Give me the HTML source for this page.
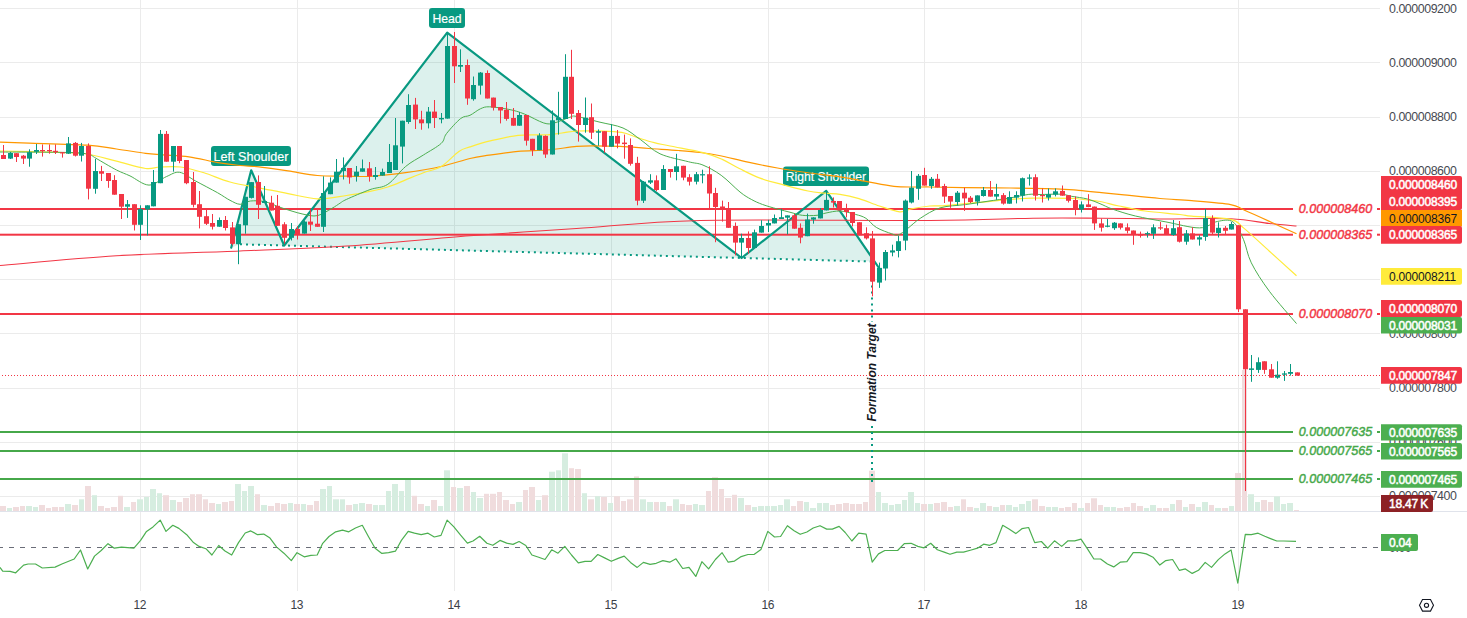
<!DOCTYPE html>
<html><head><meta charset="utf-8"><style>
html,body{margin:0;padding:0;background:#fff;width:1467px;height:618px;overflow:hidden;position:relative}
text{font-family:"Liberation Sans",sans-serif}
.ax{font-size:12.4px;fill:#474a52;letter-spacing:-0.45px}
.lb{font-size:12px;letter-spacing:-0.2px;stroke-width:0.5px}
.it{font-size:12.5px;font-style:italic;letter-spacing:0.05px;stroke-width:0.45px}
.pl{font-size:12.8px;fill:#fff;stroke:#fff;stroke-width:0.2px}
.ft{font-size:12px;font-style:italic;font-weight:bold;fill:#131722}
.tm{font-size:12px;fill:#3b3e47;letter-spacing:-0.5px}
</style></head><body>
<svg width="1467" height="618" viewBox="0 0 1467 618" style="position:absolute;left:0;top:0;display:block"><line x1="0" y1="8.5" x2="1380" y2="8.5" stroke="#EBEBEB" stroke-width="1"/><line x1="0" y1="62.5" x2="1380" y2="62.5" stroke="#EBEBEB" stroke-width="1"/><line x1="0" y1="117.5" x2="1380" y2="117.5" stroke="#EBEBEB" stroke-width="1"/><line x1="0" y1="171.5" x2="1380" y2="171.5" stroke="#EBEBEB" stroke-width="1"/><line x1="0" y1="225.5" x2="1380" y2="225.5" stroke="#EBEBEB" stroke-width="1"/><line x1="0" y1="279.5" x2="1380" y2="279.5" stroke="#EBEBEB" stroke-width="1"/><line x1="0" y1="333.5" x2="1380" y2="333.5" stroke="#EBEBEB" stroke-width="1"/><line x1="0" y1="388.5" x2="1380" y2="388.5" stroke="#EBEBEB" stroke-width="1"/><line x1="0" y1="442.5" x2="1380" y2="442.5" stroke="#EBEBEB" stroke-width="1"/><line x1="0" y1="496.5" x2="1380" y2="496.5" stroke="#EBEBEB" stroke-width="1"/><line x1="140.5" y1="0" x2="140.5" y2="591" stroke="#EBEBEB" stroke-width="1"/><line x1="297.5" y1="0" x2="297.5" y2="591" stroke="#EBEBEB" stroke-width="1"/><line x1="454.5" y1="0" x2="454.5" y2="591" stroke="#EBEBEB" stroke-width="1"/><line x1="611.5" y1="0" x2="611.5" y2="591" stroke="#EBEBEB" stroke-width="1"/><line x1="768.5" y1="0" x2="768.5" y2="591" stroke="#EBEBEB" stroke-width="1"/><line x1="924.5" y1="0" x2="924.5" y2="591" stroke="#EBEBEB" stroke-width="1"/><line x1="1081.5" y1="0" x2="1081.5" y2="591" stroke="#EBEBEB" stroke-width="1"/><line x1="1238.5" y1="0" x2="1238.5" y2="591" stroke="#EBEBEB" stroke-width="1"/><line x1="0" y1="511.5" x2="1467" y2="511.5" stroke="#E0E3EB" stroke-width="1"/><rect x="0" y="506.0" width="6" height="5.0" fill="#F0DCDD"/><rect x="7" y="508.0" width="5" height="3.0" fill="#D6EDE0"/><rect x="13" y="507.0" width="6" height="4.0" fill="#F0DCDD"/><rect x="20" y="506.0" width="5" height="5.0" fill="#F0DCDD"/><rect x="26" y="506.0" width="6" height="5.0" fill="#D6EDE0"/><rect x="33" y="507.0" width="5" height="4.0" fill="#D6EDE0"/><rect x="39" y="505.0" width="6" height="6.0" fill="#F0DCDD"/><rect x="46" y="508.0" width="5" height="3.0" fill="#F0DCDD"/><rect x="52" y="507.0" width="6" height="4.0" fill="#F0DCDD"/><rect x="59" y="507.0" width="5" height="4.0" fill="#F0DCDD"/><rect x="65" y="504.0" width="6" height="7.0" fill="#D6EDE0"/><rect x="72" y="505.0" width="6" height="6.0" fill="#F0DCDD"/><rect x="79" y="499.3" width="5" height="11.7" fill="#D6EDE0"/><rect x="85" y="486.0" width="6" height="25.0" fill="#F0DCDD"/><rect x="92" y="495.2" width="5" height="15.8" fill="#D6EDE0"/><rect x="98" y="506.0" width="6" height="5.0" fill="#F0DCDD"/><rect x="105" y="508.0" width="5" height="3.0" fill="#F0DCDD"/><rect x="111" y="507.0" width="6" height="4.0" fill="#F0DCDD"/><rect x="118" y="495.8" width="5" height="15.2" fill="#F0DCDD"/><rect x="124" y="507.0" width="6" height="4.0" fill="#D6EDE0"/><rect x="131" y="502.0" width="5" height="9.0" fill="#F0DCDD"/><rect x="137" y="499.3" width="6" height="11.7" fill="#D6EDE0"/><rect x="144" y="497.0" width="5" height="14.0" fill="#D6EDE0"/><rect x="150" y="489.0" width="6" height="22.0" fill="#D6EDE0"/><rect x="157" y="493.2" width="5" height="17.8" fill="#D6EDE0"/><rect x="163" y="495.2" width="6" height="15.8" fill="#F0DCDD"/><rect x="170" y="500.0" width="6" height="11.0" fill="#D6EDE0"/><rect x="177" y="502.0" width="5" height="9.0" fill="#F0DCDD"/><rect x="183" y="498.0" width="6" height="13.0" fill="#F0DCDD"/><rect x="190" y="494.2" width="5" height="16.8" fill="#F0DCDD"/><rect x="196" y="494.2" width="6" height="16.8" fill="#F0DCDD"/><rect x="203" y="499.3" width="5" height="11.7" fill="#F0DCDD"/><rect x="209" y="503.0" width="6" height="8.0" fill="#F0DCDD"/><rect x="216" y="504.0" width="5" height="7.0" fill="#D6EDE0"/><rect x="222" y="502.0" width="6" height="9.0" fill="#F0DCDD"/><rect x="229" y="501.0" width="5" height="10.0" fill="#F0DCDD"/><rect x="235" y="484.0" width="6" height="27.0" fill="#D6EDE0"/><rect x="242" y="491.0" width="5" height="20.0" fill="#D6EDE0"/><rect x="248" y="486.0" width="6" height="25.0" fill="#D6EDE0"/><rect x="255" y="494.2" width="5" height="16.8" fill="#F0DCDD"/><rect x="261" y="505.0" width="6" height="6.0" fill="#D6EDE0"/><rect x="268" y="506.0" width="6" height="5.0" fill="#F0DCDD"/><rect x="275" y="503.0" width="5" height="8.0" fill="#F0DCDD"/><rect x="281" y="504.0" width="6" height="7.0" fill="#F0DCDD"/><rect x="288" y="503.0" width="5" height="8.0" fill="#D6EDE0"/><rect x="294" y="504.0" width="6" height="7.0" fill="#F0DCDD"/><rect x="301" y="504.0" width="5" height="7.0" fill="#D6EDE0"/><rect x="307" y="505.0" width="6" height="6.0" fill="#F0DCDD"/><rect x="314" y="501.0" width="5" height="10.0" fill="#F0DCDD"/><rect x="320" y="489.0" width="6" height="22.0" fill="#D6EDE0"/><rect x="327" y="486.0" width="5" height="25.0" fill="#D6EDE0"/><rect x="333" y="499.3" width="6" height="11.7" fill="#D6EDE0"/><rect x="340" y="499.3" width="5" height="11.7" fill="#D6EDE0"/><rect x="346" y="505.0" width="6" height="6.0" fill="#F0DCDD"/><rect x="353" y="504.0" width="5" height="7.0" fill="#D6EDE0"/><rect x="359" y="503.0" width="6" height="8.0" fill="#D6EDE0"/><rect x="366" y="504.0" width="6" height="7.0" fill="#F0DCDD"/><rect x="373" y="505.0" width="5" height="6.0" fill="#D6EDE0"/><rect x="379" y="505.0" width="6" height="6.0" fill="#D6EDE0"/><rect x="386" y="491.0" width="5" height="20.0" fill="#D6EDE0"/><rect x="392" y="484.0" width="6" height="27.0" fill="#D6EDE0"/><rect x="399" y="491.0" width="5" height="20.0" fill="#D6EDE0"/><rect x="405" y="479.3" width="6" height="31.7" fill="#D6EDE0"/><rect x="412" y="495.8" width="5" height="15.2" fill="#F0DCDD"/><rect x="418" y="504.0" width="6" height="7.0" fill="#F0DCDD"/><rect x="425" y="506.0" width="5" height="5.0" fill="#D6EDE0"/><rect x="431" y="500.0" width="6" height="11.0" fill="#F0DCDD"/><rect x="438" y="506.0" width="5" height="5.0" fill="#D6EDE0"/><rect x="444" y="470.3" width="6" height="40.7" fill="#D6EDE0"/><rect x="451" y="487.0" width="5" height="24.0" fill="#F0DCDD"/><rect x="457" y="488.0" width="6" height="23.0" fill="#D6EDE0"/><rect x="464" y="486.0" width="6" height="25.0" fill="#F0DCDD"/><rect x="471" y="492.0" width="5" height="19.0" fill="#D6EDE0"/><rect x="477" y="498.0" width="6" height="13.0" fill="#D6EDE0"/><rect x="484" y="493.8" width="5" height="17.2" fill="#F0DCDD"/><rect x="490" y="493.8" width="6" height="17.2" fill="#F0DCDD"/><rect x="497" y="492.0" width="5" height="19.0" fill="#F0DCDD"/><rect x="503" y="500.0" width="6" height="11.0" fill="#F0DCDD"/><rect x="510" y="504.0" width="5" height="7.0" fill="#F0DCDD"/><rect x="516" y="502.0" width="6" height="9.0" fill="#D6EDE0"/><rect x="523" y="490.0" width="5" height="21.0" fill="#F0DCDD"/><rect x="529" y="487.0" width="6" height="24.0" fill="#F0DCDD"/><rect x="536" y="500.0" width="5" height="11.0" fill="#D6EDE0"/><rect x="542" y="495.2" width="6" height="15.8" fill="#F0DCDD"/><rect x="549" y="471.7" width="6" height="39.3" fill="#D6EDE0"/><rect x="556" y="470.3" width="5" height="40.7" fill="#D6EDE0"/><rect x="562" y="453.3" width="6" height="57.7" fill="#D6EDE0"/><rect x="569" y="468.2" width="5" height="42.8" fill="#F0DCDD"/><rect x="575" y="469.0" width="6" height="42.0" fill="#F0DCDD"/><rect x="582" y="493.2" width="5" height="17.8" fill="#D6EDE0"/><rect x="588" y="499.3" width="6" height="11.7" fill="#F0DCDD"/><rect x="595" y="496.2" width="5" height="14.8" fill="#D6EDE0"/><rect x="601" y="497.0" width="6" height="14.0" fill="#F0DCDD"/><rect x="608" y="503.0" width="5" height="8.0" fill="#D6EDE0"/><rect x="614" y="496.2" width="6" height="14.8" fill="#F0DCDD"/><rect x="621" y="501.0" width="5" height="10.0" fill="#F0DCDD"/><rect x="627" y="499.3" width="6" height="11.7" fill="#F0DCDD"/><rect x="634" y="476.4" width="5" height="34.6" fill="#F0DCDD"/><rect x="640" y="499.3" width="6" height="11.7" fill="#D6EDE0"/><rect x="647" y="502.0" width="6" height="9.0" fill="#D6EDE0"/><rect x="654" y="502.0" width="5" height="9.0" fill="#F0DCDD"/><rect x="660" y="502.0" width="6" height="9.0" fill="#D6EDE0"/><rect x="667" y="506.0" width="5" height="5.0" fill="#F0DCDD"/><rect x="673" y="499.3" width="6" height="11.7" fill="#D6EDE0"/><rect x="680" y="504.0" width="5" height="7.0" fill="#F0DCDD"/><rect x="686" y="505.0" width="6" height="6.0" fill="#F0DCDD"/><rect x="693" y="504.0" width="5" height="7.0" fill="#D6EDE0"/><rect x="699" y="505.0" width="6" height="6.0" fill="#D6EDE0"/><rect x="706" y="491.0" width="5" height="20.0" fill="#F0DCDD"/><rect x="712" y="477.2" width="6" height="33.8" fill="#F0DCDD"/><rect x="719" y="489.0" width="5" height="22.0" fill="#F0DCDD"/><rect x="725" y="498.0" width="6" height="13.0" fill="#F0DCDD"/><rect x="732" y="494.8" width="5" height="16.2" fill="#F0DCDD"/><rect x="738" y="498.0" width="6" height="13.0" fill="#D6EDE0"/><rect x="745" y="505.0" width="6" height="6.0" fill="#F0DCDD"/><rect x="752" y="507.0" width="5" height="4.0" fill="#D6EDE0"/><rect x="758" y="506.0" width="6" height="5.0" fill="#D6EDE0"/><rect x="765" y="506.0" width="5" height="5.0" fill="#D6EDE0"/><rect x="771" y="506.0" width="6" height="5.0" fill="#D6EDE0"/><rect x="778" y="505.0" width="5" height="6.0" fill="#D6EDE0"/><rect x="784" y="499.3" width="6" height="11.7" fill="#D6EDE0"/><rect x="791" y="506.0" width="5" height="5.0" fill="#F0DCDD"/><rect x="797" y="501.0" width="6" height="10.0" fill="#F0DCDD"/><rect x="804" y="502.0" width="5" height="9.0" fill="#D6EDE0"/><rect x="810" y="508.0" width="6" height="3.0" fill="#D6EDE0"/><rect x="817" y="503.0" width="5" height="8.0" fill="#D6EDE0"/><rect x="823" y="503.0" width="6" height="8.0" fill="#D6EDE0"/><rect x="830" y="505.0" width="5" height="6.0" fill="#F0DCDD"/><rect x="836" y="504.0" width="6" height="7.0" fill="#F0DCDD"/><rect x="843" y="503.0" width="6" height="8.0" fill="#F0DCDD"/><rect x="850" y="504.0" width="5" height="7.0" fill="#F0DCDD"/><rect x="856" y="504.0" width="6" height="7.0" fill="#F0DCDD"/><rect x="863" y="502.0" width="5" height="9.0" fill="#F0DCDD"/><rect x="869" y="470.7" width="6" height="40.3" fill="#F0DCDD"/><rect x="876" y="492.0" width="5" height="19.0" fill="#D6EDE0"/><rect x="882" y="503.0" width="6" height="8.0" fill="#D6EDE0"/><rect x="889" y="505.0" width="5" height="6.0" fill="#D6EDE0"/><rect x="895" y="504.0" width="6" height="7.0" fill="#D6EDE0"/><rect x="902" y="500.0" width="5" height="11.0" fill="#D6EDE0"/><rect x="908" y="492.0" width="6" height="19.0" fill="#D6EDE0"/><rect x="915" y="503.0" width="5" height="8.0" fill="#D6EDE0"/><rect x="921" y="504.0" width="6" height="7.0" fill="#F0DCDD"/><rect x="928" y="504.0" width="5" height="7.0" fill="#D6EDE0"/><rect x="934" y="503.0" width="6" height="8.0" fill="#F0DCDD"/><rect x="941" y="502.0" width="6" height="9.0" fill="#F0DCDD"/><rect x="948" y="507.0" width="5" height="4.0" fill="#F0DCDD"/><rect x="954" y="506.0" width="6" height="5.0" fill="#D6EDE0"/><rect x="961" y="499.3" width="5" height="11.7" fill="#F0DCDD"/><rect x="967" y="507.0" width="6" height="4.0" fill="#F0DCDD"/><rect x="974" y="508.0" width="5" height="3.0" fill="#D6EDE0"/><rect x="980" y="503.0" width="6" height="8.0" fill="#D6EDE0"/><rect x="987" y="506.0" width="5" height="5.0" fill="#F0DCDD"/><rect x="993" y="507.0" width="6" height="4.0" fill="#D6EDE0"/><rect x="1000" y="505.0" width="5" height="6.0" fill="#F0DCDD"/><rect x="1006" y="505.0" width="6" height="6.0" fill="#D6EDE0"/><rect x="1013" y="507.0" width="5" height="4.0" fill="#D6EDE0"/><rect x="1019" y="504.0" width="6" height="7.0" fill="#D6EDE0"/><rect x="1026" y="501.0" width="5" height="10.0" fill="#D6EDE0"/><rect x="1032" y="499.3" width="6" height="11.7" fill="#F0DCDD"/><rect x="1039" y="506.0" width="6" height="5.0" fill="#F0DCDD"/><rect x="1046" y="507.0" width="5" height="4.0" fill="#D6EDE0"/><rect x="1052" y="507.0" width="6" height="4.0" fill="#D6EDE0"/><rect x="1059" y="508.0" width="5" height="3.0" fill="#F0DCDD"/><rect x="1065" y="507.0" width="6" height="4.0" fill="#F0DCDD"/><rect x="1072" y="503.0" width="5" height="8.0" fill="#F0DCDD"/><rect x="1078" y="508.0" width="6" height="3.0" fill="#D6EDE0"/><rect x="1085" y="503.0" width="5" height="8.0" fill="#F0DCDD"/><rect x="1091" y="498.3" width="6" height="12.7" fill="#F0DCDD"/><rect x="1098" y="505.0" width="5" height="6.0" fill="#F0DCDD"/><rect x="1104" y="507.0" width="6" height="4.0" fill="#D6EDE0"/><rect x="1111" y="507.0" width="5" height="4.0" fill="#D6EDE0"/><rect x="1117" y="508.0" width="6" height="3.0" fill="#F0DCDD"/><rect x="1124" y="507.0" width="6" height="4.0" fill="#F0DCDD"/><rect x="1131" y="503.0" width="5" height="8.0" fill="#F0DCDD"/><rect x="1137" y="506.0" width="6" height="5.0" fill="#F0DCDD"/><rect x="1144" y="508.0" width="5" height="3.0" fill="#D6EDE0"/><rect x="1150" y="505.0" width="6" height="6.0" fill="#D6EDE0"/><rect x="1157" y="508.0" width="5" height="3.0" fill="#F0DCDD"/><rect x="1163" y="508.0" width="6" height="3.0" fill="#F0DCDD"/><rect x="1170" y="504.0" width="5" height="7.0" fill="#D6EDE0"/><rect x="1176" y="500.0" width="6" height="11.0" fill="#F0DCDD"/><rect x="1183" y="507.0" width="5" height="4.0" fill="#D6EDE0"/><rect x="1189" y="504.0" width="6" height="7.0" fill="#F0DCDD"/><rect x="1196" y="507.0" width="5" height="4.0" fill="#D6EDE0"/><rect x="1202" y="502.0" width="6" height="9.0" fill="#D6EDE0"/><rect x="1209" y="505.0" width="5" height="6.0" fill="#F0DCDD"/><rect x="1215" y="508.0" width="6" height="3.0" fill="#D6EDE0"/><rect x="1222" y="508.0" width="6" height="3.0" fill="#F0DCDD"/><rect x="1229" y="506.0" width="5" height="5.0" fill="#D6EDE0"/><rect x="1235" y="473.0" width="6" height="38.0" fill="#F0DCDD"/><rect x="1242" y="370.0" width="5" height="141.0" fill="#F0DCDD"/><rect x="1248" y="494.2" width="6" height="16.8" fill="#D6EDE0"/><rect x="1255" y="502.0" width="5" height="9.0" fill="#D6EDE0"/><rect x="1261" y="500.0" width="6" height="11.0" fill="#F0DCDD"/><rect x="1268" y="502.0" width="5" height="9.0" fill="#F0DCDD"/><rect x="1274" y="496.4" width="6" height="14.6" fill="#D6EDE0"/><rect x="1281" y="504.0" width="5" height="7.0" fill="#D6EDE0"/><rect x="1287" y="503.0" width="6" height="8.0" fill="#D6EDE0"/><rect x="1294" y="510.0" width="5" height="1.0" fill="#F0DCDD"/><polygon points="231.2,247.7 251.2,170.3 284.2,245.5 447.2,32.6 741.6,258.0 826.2,190.8 874.6,261.6 240.0,244.3" fill="rgba(8,153,129,0.14)" stroke="none"/><line x1="240" y1="244.3" x2="874.6" y2="261.6" stroke="#089981" stroke-width="2" stroke-dasharray="2 4"/><rect x="0" y="208.0" width="1293" height="2" fill="#F23645"/><rect x="1377" y="208.0" width="3" height="2" fill="#F23645"/><text x="1335.5" y="213.3" text-anchor="middle" class="it" fill="#F23645" stroke="#F23645">0.000008460</text><rect x="0" y="233.7" width="1293" height="2" fill="#F23645"/><rect x="1377" y="233.7" width="3" height="2" fill="#F23645"/><text x="1335.5" y="239.0" text-anchor="middle" class="it" fill="#F23645" stroke="#F23645">0.000008365</text><rect x="0" y="313.0" width="1293" height="2" fill="#F23645"/><rect x="1377" y="313.0" width="3" height="2" fill="#F23645"/><text x="1335.5" y="318.3" text-anchor="middle" class="it" fill="#F23645" stroke="#F23645">0.000008070</text><rect x="0" y="431.0" width="1293" height="2" fill="#46A84A"/><rect x="1377" y="431.0" width="3" height="2" fill="#46A84A"/><text x="1335.5" y="436.3" text-anchor="middle" class="it" fill="#46A84A" stroke="#46A84A">0.000007635</text><rect x="0" y="450.0" width="1293" height="2" fill="#46A84A"/><rect x="1377" y="450.0" width="3" height="2" fill="#46A84A"/><text x="1335.5" y="455.3" text-anchor="middle" class="it" fill="#46A84A" stroke="#46A84A">0.000007565</text><rect x="0" y="478.0" width="1293" height="2" fill="#46A84A"/><rect x="1377" y="478.0" width="3" height="2" fill="#46A84A"/><text x="1335.5" y="483.3" text-anchor="middle" class="it" fill="#46A84A" stroke="#46A84A">0.000007465</text><polyline points="231.2,247.7 251.2,170.3 284.2,245.5 447.2,32.6 741.6,258.0 826.2,190.8 879.0,268.0" fill="none" stroke="#089981" stroke-width="2.2" stroke-linejoin="round" stroke-linecap="round"/><rect x="211" y="146" width="80" height="20" rx="3" fill="#089981"/><text x="251.0" y="160.6" text-anchor="middle" class="pl" textLength="75" lengthAdjust="spacingAndGlyphs">Left Shoulder</text><rect x="429" y="8" width="36" height="20" rx="3" fill="#089981"/><text x="447.0" y="22.7" text-anchor="middle" class="pl" textLength="29.2" lengthAdjust="spacingAndGlyphs">Head</text><rect x="783" y="166.5" width="86" height="19.5" rx="3" fill="#089981"/><text x="826.0" y="180.5" text-anchor="middle" class="pl" textLength="80.3" lengthAdjust="spacingAndGlyphs">Right Shoulder</text><line x1="872" y1="261.6" x2="872" y2="322" stroke="#089981" stroke-width="2" stroke-dasharray="2 4"/><line x1="872" y1="426" x2="872" y2="482" stroke="#089981" stroke-width="2" stroke-dasharray="2 4"/><path d="M0.0,265.5 C19.4,263.9 76.5,258.2 116.5,255.8 C156.5,253.4 201.7,252.6 240.0,251.0 C278.3,249.4 308.2,248.5 346.5,246.0 C384.8,243.5 431.7,238.7 470.0,235.8 C508.3,232.9 538.2,231.2 576.5,228.6 C614.8,226.0 641.1,221.8 700.0,220.4 C758.9,219.1 874.5,220.9 930.0,220.5 C985.5,220.1 1004.5,218.6 1033.0,218.2 C1061.5,217.8 1079.8,218.1 1101.0,218.2 C1122.2,218.3 1138.4,218.8 1160.0,218.9 C1181.6,219.0 1212.4,218.0 1230.6,218.8 C1248.8,219.6 1258.4,222.3 1269.4,223.5 C1280.4,224.7 1292.0,225.6 1296.5,226.0" fill="none" stroke="#F23645" stroke-width="1.05" /><path d="M0.0,142.2 C4.8,142.3 14.4,142.6 29.0,143.1 C43.6,143.6 72.8,144.2 87.4,145.2 C102.0,146.2 106.8,147.7 116.5,149.0 C126.2,150.3 137.8,152.3 145.6,153.3 C153.3,154.3 155.8,154.2 163.0,154.8 C170.2,155.4 179.8,155.5 189.0,156.8 C198.2,158.1 209.5,161.2 218.0,162.6 C226.5,164.0 233.2,164.8 240.0,165.5 C246.8,166.2 251.0,165.9 259.0,166.8 C267.0,167.7 278.3,169.5 288.0,170.9 C297.7,172.3 307.6,174.6 317.4,175.5 C327.1,176.4 337.7,176.0 346.5,176.1 C355.3,176.2 360.1,176.9 370.0,176.3 C379.9,175.7 393.7,174.3 405.6,172.7 C417.5,171.1 430.5,168.9 441.2,166.5 C451.9,164.1 462.0,160.4 470.0,158.5 C478.0,156.6 481.0,156.4 489.0,155.2 C497.0,154.0 508.3,152.3 518.0,151.4 C527.7,150.5 537.6,150.8 547.4,150.0 C557.1,149.2 568.7,147.1 576.5,146.4 C584.3,145.7 586.8,145.8 594.0,145.8 C601.2,145.8 610.8,146.0 620.0,146.4 C629.2,146.8 639.2,147.8 649.0,148.5 C658.8,149.2 670.0,149.8 678.5,150.5 C687.0,151.2 693.2,151.7 700.0,152.5 C706.8,153.3 711.0,153.9 719.0,155.5 C727.0,157.1 738.3,160.1 748.0,162.2 C757.7,164.3 767.6,166.3 777.4,168.0 C787.1,169.7 796.1,171.0 806.5,172.5 C816.9,174.0 830.1,175.3 840.0,176.8 C849.9,178.3 856.9,179.8 865.9,181.4 C874.9,183.0 885.5,185.5 894.0,186.4 C902.5,187.3 911.0,186.9 917.0,187.0 C923.0,187.1 921.9,186.9 930.0,187.0 C938.1,187.1 951.9,187.4 965.4,187.6 C978.9,187.8 995.6,187.8 1010.7,188.0 C1025.8,188.2 1044.7,188.4 1056.0,188.8 C1067.3,189.2 1071.1,189.7 1078.7,190.3 C1086.3,190.9 1093.9,191.8 1101.4,192.6 C1109.0,193.4 1114.2,193.9 1124.0,194.9 C1133.8,195.9 1148.7,197.5 1160.0,198.5 C1171.3,199.5 1179.9,199.7 1191.7,200.7 C1203.5,201.7 1222.0,203.1 1230.6,204.6 C1239.2,206.1 1237.0,207.0 1243.5,209.8 C1250.0,212.6 1260.6,217.4 1269.4,221.4 C1278.2,225.4 1292.0,231.7 1296.5,233.8" fill="none" stroke="#FF9800" stroke-width="1.2" /><path d="M0.0,151.0 C9.7,151.2 43.5,151.9 58.0,152.4 C72.5,152.9 77.2,152.5 87.0,154.0 C96.8,155.5 106.7,158.8 116.5,161.2 C126.3,163.6 138.3,167.5 145.6,168.5 C152.8,169.5 154.2,167.2 160.0,167.0 C165.8,166.8 173.3,166.0 180.6,167.0 C187.9,168.0 195.8,170.3 204.0,172.8 C212.2,175.3 220.8,179.5 230.0,182.0 C239.2,184.5 249.3,185.9 259.0,187.8 C268.7,189.7 278.3,191.8 288.0,193.6 C297.7,195.4 307.6,198.5 317.4,198.8 C327.1,199.1 337.7,196.7 346.5,195.5 C355.3,194.3 363.1,192.8 370.0,191.4 C376.9,190.0 381.9,188.9 387.8,187.0 C393.7,185.1 399.7,182.3 405.6,179.9 C411.5,177.5 417.5,174.9 423.4,172.7 C429.3,170.5 435.3,170.1 441.2,166.5 C447.1,162.9 454.1,154.7 458.9,151.4 C463.7,148.1 465.0,148.6 470.0,146.9 C475.0,145.2 481.0,143.1 489.0,141.2 C497.0,139.3 508.3,136.4 518.0,135.3 C527.7,134.2 540.1,135.2 547.4,134.8 C554.7,134.4 557.1,133.6 562.0,133.0 C566.9,132.4 570.2,131.3 576.5,131.0 C582.8,130.7 592.5,130.8 600.0,131.0 C607.5,131.2 615.6,131.3 621.8,132.4 C628.0,133.5 632.0,135.9 637.4,137.6 C642.8,139.3 648.8,141.3 654.2,142.7 C659.6,144.1 661.9,144.3 670.0,146.0 C678.1,147.7 694.3,150.4 703.0,152.6 C711.7,154.8 716.2,156.8 722.3,159.4 C728.3,162.1 733.0,165.4 739.3,168.5 C745.6,171.6 752.3,175.3 760.0,178.1 C767.7,180.9 777.3,183.2 785.3,185.3 C793.3,187.5 801.4,189.7 808.0,191.0 C814.6,192.3 819.7,192.6 825.0,193.2 C830.3,193.8 834.3,193.4 840.0,194.3 C845.7,195.2 852.5,196.7 859.0,198.6 C865.5,200.5 872.5,203.8 879.3,206.0 C886.1,208.2 894.4,211.3 899.7,211.8 C905.1,212.3 906.4,209.8 911.4,208.8 C916.4,207.8 924.8,206.5 930.0,206.0 C935.2,205.5 936.8,206.2 942.7,205.8 C948.6,205.4 957.9,204.2 965.4,203.5 C972.9,202.8 980.5,202.4 988.0,201.7 C995.5,201.0 1003.1,200.0 1010.7,199.4 C1018.3,198.8 1023.3,198.4 1033.4,198.2 C1043.6,198.0 1062.6,198.1 1071.6,198.4 C1080.6,198.7 1082.7,199.5 1087.4,200.0 C1092.1,200.5 1094.7,200.5 1100.0,201.5 C1105.3,202.5 1111.5,204.4 1119.0,206.0 C1126.5,207.6 1134.8,209.6 1145.0,211.0 C1155.2,212.4 1172.2,213.6 1180.0,214.5 C1187.8,215.4 1183.3,215.4 1191.7,216.2 C1200.1,217.0 1222.0,217.4 1230.6,219.3 C1239.2,221.2 1237.0,222.6 1243.5,227.9 C1250.0,233.2 1260.6,243.2 1269.4,251.2 C1278.2,259.2 1292.0,271.6 1296.5,275.7" fill="none" stroke="#FFEB3B" stroke-width="1.2" /><path d="M0.0,152.0 C10.7,152.1 49.4,152.1 64.0,152.4 C78.6,152.7 82.1,153.0 87.4,154.0 C92.7,155.0 91.2,155.6 96.0,158.3 C100.8,161.0 110.8,167.1 116.5,170.0 C122.2,172.9 124.6,173.4 130.0,175.9 C135.4,178.4 142.9,185.0 149.0,185.1 C155.1,185.2 161.3,178.7 166.4,176.6 C171.5,174.5 174.7,171.6 179.6,172.3 C184.5,173.0 189.3,177.6 195.6,181.0 C201.9,184.4 211.8,189.5 217.5,192.7 C223.2,195.9 226.2,198.4 230.0,200.3 C233.8,202.2 236.8,204.2 240.2,204.3 C243.6,204.4 246.3,201.4 250.4,201.0 C254.5,200.6 259.9,200.6 265.0,201.7 C270.1,202.8 274.7,205.5 281.0,207.6 C287.3,209.7 296.8,212.8 302.9,214.1 C309.0,215.4 312.6,216.6 317.5,215.6 C322.4,214.6 328.2,210.4 332.0,208.3 C335.8,206.2 337.6,204.7 340.0,203.2 C342.4,201.7 341.5,201.7 346.5,199.4 C351.5,197.1 363.1,192.1 370.0,189.6 C376.9,187.1 381.9,188.2 387.8,184.3 C393.7,180.5 399.7,171.4 405.6,166.5 C411.5,161.6 417.5,158.8 423.4,155.0 C429.3,151.2 437.3,147.0 441.2,143.4 C445.1,139.8 443.2,137.8 446.5,133.6 C449.8,129.4 456.8,121.5 460.7,118.5 C464.6,115.5 466.7,116.9 470.0,115.3 C473.3,113.7 477.2,110.2 480.4,108.8 C483.6,107.4 484.6,106.7 489.4,106.8 C494.1,106.9 503.1,108.2 508.9,109.4 C514.7,110.6 518.6,111.7 524.4,114.0 C530.2,116.3 538.8,121.5 543.8,123.0 C548.8,124.5 549.8,124.0 554.2,123.0 C558.6,122.0 566.3,118.3 570.0,117.2 C573.7,116.1 571.5,115.6 576.5,116.4 C581.5,117.2 592.2,120.3 600.0,122.2 C607.8,124.1 616.2,125.1 623.0,128.0 C629.8,130.9 634.4,135.4 640.6,139.7 C646.8,144.0 652.0,150.1 660.0,153.8 C668.0,157.5 681.1,159.8 688.3,161.7 C695.5,163.6 697.5,162.8 703.0,165.1 C708.5,167.4 715.0,170.8 721.2,175.3 C727.4,179.8 735.0,188.0 740.0,192.0 C745.0,196.0 747.5,197.3 751.3,199.4 C755.1,201.5 758.2,202.9 762.6,204.5 C767.0,206.1 772.7,207.7 777.4,209.0 C782.1,210.3 786.9,211.4 791.0,212.5 C795.1,213.6 798.0,214.8 802.3,215.3 C806.6,215.8 813.0,215.7 817.0,215.3 C821.0,214.9 822.2,213.7 826.0,213.0 C829.8,212.3 835.1,210.8 840.0,211.0 C844.9,211.2 851.2,213.2 855.5,214.4 C859.8,215.6 862.4,216.1 865.9,218.3 C869.4,220.5 872.0,224.8 876.3,227.4 C880.6,230.0 888.1,232.6 891.8,233.8 C895.5,235.1 895.7,235.8 898.3,234.9 C900.9,234.1 903.7,231.5 907.4,228.7 C911.1,225.9 914.9,221.8 920.3,218.3 C925.7,214.8 932.5,210.2 940.0,207.9 C947.5,205.6 957.4,205.7 965.4,204.6 C973.4,203.5 980.5,202.3 988.0,201.2 C995.5,200.1 1003.9,198.9 1010.7,197.8 C1017.5,196.7 1023.9,195.0 1028.8,194.4 C1033.7,193.8 1034.6,194.5 1040.0,194.5 C1045.4,194.5 1055.7,193.9 1061.0,194.2 C1066.3,194.5 1067.2,195.5 1071.6,196.3 C1076.0,197.1 1082.7,197.8 1087.4,199.0 C1092.1,200.2 1095.8,202.0 1100.0,203.7 C1104.2,205.4 1106.8,207.1 1112.7,209.2 C1118.6,211.2 1126.5,213.9 1135.4,216.0 C1144.3,218.1 1155.2,219.9 1165.9,221.9 C1176.6,223.9 1190.9,228.0 1199.5,227.9 C1208.1,227.8 1212.0,222.4 1217.6,221.4 C1223.2,220.4 1228.7,218.9 1233.0,221.9 C1237.3,224.9 1240.5,232.7 1243.5,239.5 C1246.5,246.3 1247.0,254.2 1251.3,262.8 C1255.6,271.4 1261.9,281.2 1269.4,291.3 C1276.9,301.4 1292.0,318.2 1296.5,323.6" fill="none" stroke="#4CAF50" stroke-width="1" /><rect x="3" y="145.0" width="1" height="14.0" fill="#F23645"/><rect x="1" y="155.0" width="5" height="4.0" fill="#F23645"/><rect x="10" y="152.0" width="1" height="7.0" fill="#089981"/><rect x="8" y="153.0" width="5" height="5.6" fill="#089981"/><rect x="16" y="153.0" width="1" height="9.0" fill="#F23645"/><rect x="14" y="153.2" width="5" height="3.8" fill="#F23645"/><rect x="23" y="155.0" width="1" height="9.0" fill="#F23645"/><rect x="21" y="155.7" width="5" height="2.9" fill="#F23645"/><rect x="29" y="149.3" width="1" height="17.4" fill="#089981"/><rect x="27" y="152.2" width="5" height="6.4" fill="#089981"/><rect x="36" y="144.0" width="1" height="10.0" fill="#089981"/><rect x="34" y="150.0" width="5" height="1.8" fill="#089981"/><rect x="42" y="144.4" width="1" height="12.2" fill="#F23645"/><rect x="40" y="150.0" width="5" height="1.2" fill="#F23645"/><rect x="49" y="144.4" width="1" height="9.3" fill="#F23645"/><rect x="47" y="150.0" width="5" height="1.2" fill="#F23645"/><rect x="55" y="144.4" width="1" height="9.6" fill="#F23645"/><rect x="53" y="150.8" width="5" height="1.4" fill="#F23645"/><rect x="62" y="152.0" width="1" height="5.6" fill="#F23645"/><rect x="60" y="152.2" width="5" height="1.2" fill="#F23645"/><rect x="68" y="137.0" width="1" height="17.0" fill="#089981"/><rect x="66" y="143.4" width="5" height="10.3" fill="#089981"/><rect x="75" y="142.0" width="1" height="14.5" fill="#F23645"/><rect x="73" y="142.9" width="5" height="12.8" fill="#F23645"/><rect x="81" y="142.9" width="1" height="18.6" fill="#089981"/><rect x="79" y="146.0" width="5" height="9.7" fill="#089981"/><rect x="88" y="143.4" width="1" height="56.0" fill="#F23645"/><rect x="86" y="146.0" width="5" height="42.7" fill="#F23645"/><rect x="95" y="159.0" width="1" height="34.7" fill="#089981"/><rect x="93" y="171.0" width="5" height="17.8" fill="#089981"/><rect x="101" y="165.9" width="1" height="15.1" fill="#F23645"/><rect x="99" y="171.2" width="5" height="2.5" fill="#F23645"/><rect x="108" y="173.0" width="1" height="14.8" fill="#F23645"/><rect x="106" y="173.0" width="5" height="8.0" fill="#F23645"/><rect x="114" y="175.2" width="1" height="19.5" fill="#F23645"/><rect x="112" y="180.0" width="5" height="14.7" fill="#F23645"/><rect x="121" y="194.0" width="1" height="25.0" fill="#F23645"/><rect x="119" y="194.0" width="5" height="12.7" fill="#F23645"/><rect x="127" y="200.0" width="1" height="17.9" fill="#089981"/><rect x="125" y="204.2" width="5" height="2.5" fill="#089981"/><rect x="134" y="204.2" width="1" height="26.3" fill="#F23645"/><rect x="132" y="204.2" width="5" height="20.6" fill="#F23645"/><rect x="140" y="205.3" width="1" height="34.7" fill="#089981"/><rect x="138" y="209.0" width="5" height="15.8" fill="#089981"/><rect x="147" y="205.3" width="1" height="30.1" fill="#089981"/><rect x="145" y="205.3" width="5" height="4.2" fill="#089981"/><rect x="153" y="170.0" width="1" height="36.3" fill="#089981"/><rect x="151" y="182.0" width="5" height="24.3" fill="#089981"/><rect x="160" y="130.0" width="1" height="53.2" fill="#089981"/><rect x="158" y="133.9" width="5" height="49.3" fill="#089981"/><rect x="166" y="131.0" width="1" height="30.7" fill="#F23645"/><rect x="164" y="133.9" width="5" height="27.8" fill="#F23645"/><rect x="173" y="146.0" width="1" height="25.6" fill="#089981"/><rect x="171" y="146.0" width="5" height="15.7" fill="#089981"/><rect x="179" y="146.0" width="1" height="17.2" fill="#F23645"/><rect x="177" y="146.0" width="5" height="15.0" fill="#F23645"/><rect x="186" y="160.0" width="1" height="24.2" fill="#F23645"/><rect x="184" y="160.0" width="5" height="23.2" fill="#F23645"/><rect x="193" y="172.0" width="1" height="35.4" fill="#F23645"/><rect x="191" y="182.0" width="5" height="22.8" fill="#F23645"/><rect x="199" y="191.0" width="1" height="37.4" fill="#F23645"/><rect x="197" y="204.2" width="5" height="12.6" fill="#F23645"/><rect x="206" y="209.5" width="1" height="15.5" fill="#F23645"/><rect x="204" y="216.2" width="5" height="7.6" fill="#F23645"/><rect x="212" y="214.0" width="1" height="15.5" fill="#F23645"/><rect x="210" y="223.0" width="5" height="3.7" fill="#F23645"/><rect x="219" y="217.5" width="1" height="9.2" fill="#089981"/><rect x="217" y="220.0" width="5" height="6.7" fill="#089981"/><rect x="225" y="216.0" width="1" height="14.5" fill="#F23645"/><rect x="223" y="220.0" width="5" height="8.0" fill="#F23645"/><rect x="232" y="222.0" width="1" height="23.3" fill="#F23645"/><rect x="230" y="227.4" width="5" height="16.4" fill="#F23645"/><rect x="238" y="224.2" width="1" height="40.0" fill="#089981"/><rect x="236" y="224.2" width="5" height="20.0" fill="#089981"/><rect x="245" y="196.8" width="1" height="36.9" fill="#089981"/><rect x="243" y="196.8" width="5" height="28.5" fill="#089981"/><rect x="251" y="182.1" width="1" height="16.4" fill="#089981"/><rect x="249" y="182.1" width="5" height="15.8" fill="#089981"/><rect x="258" y="175.4" width="1" height="43.6" fill="#F23645"/><rect x="256" y="182.0" width="5" height="22.8" fill="#F23645"/><rect x="264" y="186.0" width="1" height="17.0" fill="#089981"/><rect x="262" y="201.0" width="5" height="2.0" fill="#089981"/><rect x="271" y="195.8" width="1" height="14.7" fill="#F23645"/><rect x="269" y="202.7" width="5" height="7.8" fill="#F23645"/><rect x="277" y="195.0" width="1" height="30.8" fill="#F23645"/><rect x="275" y="205.8" width="5" height="20.0" fill="#F23645"/><rect x="284" y="222.2" width="1" height="21.5" fill="#F23645"/><rect x="282" y="224.3" width="5" height="13.5" fill="#F23645"/><rect x="291" y="223.0" width="1" height="17.5" fill="#089981"/><rect x="289" y="229.0" width="5" height="8.8" fill="#089981"/><rect x="297" y="226.4" width="1" height="13.1" fill="#F23645"/><rect x="295" y="229.0" width="5" height="5.2" fill="#F23645"/><rect x="304" y="220.5" width="1" height="13.1" fill="#089981"/><rect x="302" y="221.6" width="5" height="12.0" fill="#089981"/><rect x="310" y="210.0" width="1" height="21.0" fill="#F23645"/><rect x="308" y="221.6" width="5" height="3.1" fill="#F23645"/><rect x="317" y="209.0" width="1" height="17.8" fill="#F23645"/><rect x="315" y="223.7" width="5" height="3.1" fill="#F23645"/><rect x="323" y="176.3" width="1" height="55.7" fill="#089981"/><rect x="321" y="193.0" width="5" height="33.8" fill="#089981"/><rect x="330" y="177.4" width="1" height="16.8" fill="#089981"/><rect x="328" y="182.6" width="5" height="11.6" fill="#089981"/><rect x="336" y="159.0" width="1" height="23.6" fill="#089981"/><rect x="334" y="171.7" width="5" height="10.9" fill="#089981"/><rect x="343" y="157.4" width="1" height="22.1" fill="#089981"/><rect x="341" y="168.0" width="5" height="3.0" fill="#089981"/><rect x="349" y="168.0" width="1" height="15.7" fill="#F23645"/><rect x="347" y="168.0" width="5" height="9.4" fill="#F23645"/><rect x="356" y="166.0" width="1" height="15.6" fill="#089981"/><rect x="354" y="171.7" width="5" height="4.6" fill="#089981"/><rect x="362" y="159.5" width="1" height="12.2" fill="#089981"/><rect x="360" y="168.3" width="5" height="3.4" fill="#089981"/><rect x="369" y="162.0" width="1" height="19.6" fill="#F23645"/><rect x="367" y="168.3" width="5" height="8.0" fill="#F23645"/><rect x="375" y="167.0" width="1" height="12.7" fill="#089981"/><rect x="373" y="175.0" width="5" height="2.0" fill="#089981"/><rect x="382" y="168.6" width="1" height="7.0" fill="#089981"/><rect x="380" y="172.0" width="5" height="3.6" fill="#089981"/><rect x="389" y="144.0" width="1" height="29.0" fill="#089981"/><rect x="387" y="162.0" width="5" height="11.0" fill="#089981"/><rect x="395" y="118.0" width="1" height="52.0" fill="#089981"/><rect x="393" y="145.3" width="5" height="24.7" fill="#089981"/><rect x="402" y="120.7" width="1" height="42.7" fill="#089981"/><rect x="400" y="120.7" width="5" height="25.9" fill="#089981"/><rect x="408" y="94.2" width="1" height="29.6" fill="#089981"/><rect x="406" y="105.0" width="5" height="17.0" fill="#089981"/><rect x="415" y="97.9" width="1" height="31.1" fill="#F23645"/><rect x="413" y="104.6" width="5" height="14.8" fill="#F23645"/><rect x="421" y="110.8" width="1" height="18.9" fill="#F23645"/><rect x="419" y="119.4" width="5" height="3.9" fill="#F23645"/><rect x="428" y="107.0" width="1" height="21.4" fill="#089981"/><rect x="426" y="111.6" width="5" height="11.7" fill="#089981"/><rect x="434" y="100.0" width="1" height="28.0" fill="#F23645"/><rect x="432" y="111.6" width="5" height="6.4" fill="#F23645"/><rect x="441" y="113.0" width="1" height="10.3" fill="#089981"/><rect x="439" y="118.0" width="5" height="1.4" fill="#089981"/><rect x="447" y="32.6" width="1" height="86.0" fill="#089981"/><rect x="445" y="46.0" width="5" height="72.6" fill="#089981"/><rect x="454" y="32.0" width="1" height="51.0" fill="#F23645"/><rect x="452" y="46.0" width="5" height="20.3" fill="#F23645"/><rect x="460" y="49.3" width="1" height="22.7" fill="#089981"/><rect x="458" y="65.0" width="5" height="1.7" fill="#089981"/><rect x="467" y="59.5" width="1" height="45.3" fill="#F23645"/><rect x="465" y="65.0" width="5" height="33.5" fill="#F23645"/><rect x="473" y="76.5" width="1" height="24.2" fill="#089981"/><rect x="471" y="85.0" width="5" height="14.2" fill="#089981"/><rect x="480" y="72.0" width="1" height="22.6" fill="#089981"/><rect x="478" y="72.6" width="5" height="13.0" fill="#089981"/><rect x="487" y="70.4" width="1" height="28.1" fill="#F23645"/><rect x="485" y="73.0" width="5" height="25.5" fill="#F23645"/><rect x="493" y="97.6" width="1" height="12.9" fill="#F23645"/><rect x="491" y="97.6" width="5" height="10.0" fill="#F23645"/><rect x="500" y="107.0" width="1" height="16.4" fill="#F23645"/><rect x="498" y="107.0" width="5" height="3.5" fill="#F23645"/><rect x="506" y="102.0" width="1" height="18.7" fill="#F23645"/><rect x="504" y="109.8" width="5" height="9.1" fill="#F23645"/><rect x="513" y="108.0" width="1" height="17.7" fill="#F23645"/><rect x="511" y="118.0" width="5" height="7.7" fill="#F23645"/><rect x="519" y="112.0" width="1" height="13.7" fill="#089981"/><rect x="517" y="115.0" width="5" height="10.7" fill="#089981"/><rect x="526" y="115.0" width="1" height="30.6" fill="#F23645"/><rect x="524" y="115.0" width="5" height="25.7" fill="#F23645"/><rect x="532" y="138.8" width="1" height="17.1" fill="#F23645"/><rect x="530" y="138.8" width="5" height="11.4" fill="#F23645"/><rect x="539" y="133.2" width="1" height="17.0" fill="#089981"/><rect x="537" y="135.4" width="5" height="14.8" fill="#089981"/><rect x="545" y="135.4" width="1" height="22.5" fill="#F23645"/><rect x="543" y="135.9" width="5" height="18.6" fill="#F23645"/><rect x="552" y="110.5" width="1" height="44.0" fill="#089981"/><rect x="550" y="120.3" width="5" height="34.2" fill="#089981"/><rect x="558" y="91.8" width="1" height="42.8" fill="#089981"/><rect x="556" y="117.7" width="5" height="2.6" fill="#089981"/><rect x="565" y="54.2" width="1" height="64.8" fill="#089981"/><rect x="563" y="76.8" width="5" height="42.2" fill="#089981"/><rect x="571" y="49.8" width="1" height="69.2" fill="#F23645"/><rect x="569" y="76.8" width="5" height="37.0" fill="#F23645"/><rect x="578" y="110.0" width="1" height="31.6" fill="#F23645"/><rect x="576" y="113.0" width="5" height="12.0" fill="#F23645"/><rect x="585" y="97.5" width="1" height="35.2" fill="#089981"/><rect x="583" y="117.7" width="5" height="7.3" fill="#089981"/><rect x="591" y="103.5" width="1" height="35.5" fill="#F23645"/><rect x="589" y="117.2" width="5" height="15.5" fill="#F23645"/><rect x="598" y="129.4" width="1" height="16.3" fill="#089981"/><rect x="596" y="131.2" width="5" height="1.5" fill="#089981"/><rect x="604" y="131.2" width="1" height="21.5" fill="#F23645"/><rect x="602" y="131.2" width="5" height="15.5" fill="#F23645"/><rect x="611" y="124.2" width="1" height="22.5" fill="#089981"/><rect x="609" y="135.9" width="5" height="10.8" fill="#089981"/><rect x="617" y="130.0" width="1" height="18.3" fill="#F23645"/><rect x="615" y="135.9" width="5" height="7.7" fill="#F23645"/><rect x="624" y="134.6" width="1" height="24.1" fill="#F23645"/><rect x="622" y="142.6" width="5" height="1.5" fill="#F23645"/><rect x="630" y="138.4" width="1" height="27.2" fill="#F23645"/><rect x="628" y="145.0" width="5" height="18.8" fill="#F23645"/><rect x="637" y="156.8" width="1" height="48.5" fill="#F23645"/><rect x="635" y="162.9" width="5" height="37.8" fill="#F23645"/><rect x="643" y="181.0" width="1" height="22.0" fill="#089981"/><rect x="641" y="181.7" width="5" height="19.0" fill="#089981"/><rect x="650" y="174.2" width="1" height="9.8" fill="#089981"/><rect x="648" y="180.3" width="5" height="2.3" fill="#089981"/><rect x="656" y="175.4" width="1" height="15.8" fill="#F23645"/><rect x="654" y="180.3" width="5" height="9.7" fill="#F23645"/><rect x="663" y="165.1" width="1" height="24.9" fill="#089981"/><rect x="661" y="169.0" width="5" height="21.0" fill="#089981"/><rect x="670" y="169.0" width="1" height="8.6" fill="#F23645"/><rect x="668" y="169.0" width="5" height="3.0" fill="#F23645"/><rect x="676" y="153.8" width="1" height="26.5" fill="#089981"/><rect x="674" y="166.3" width="5" height="5.7" fill="#089981"/><rect x="683" y="165.8" width="1" height="14.5" fill="#F23645"/><rect x="681" y="165.8" width="5" height="11.8" fill="#F23645"/><rect x="689" y="174.2" width="1" height="11.3" fill="#F23645"/><rect x="687" y="177.2" width="5" height="4.5" fill="#F23645"/><rect x="696" y="172.0" width="1" height="12.4" fill="#089981"/><rect x="694" y="174.2" width="5" height="7.5" fill="#089981"/><rect x="702" y="169.7" width="1" height="13.6" fill="#089981"/><rect x="700" y="174.2" width="5" height="1.2" fill="#089981"/><rect x="709" y="166.3" width="1" height="41.9" fill="#F23645"/><rect x="707" y="174.2" width="5" height="19.3" fill="#F23645"/><rect x="715" y="187.8" width="1" height="54.4" fill="#F23645"/><rect x="713" y="193.0" width="5" height="14.0" fill="#F23645"/><rect x="722" y="200.6" width="1" height="21.0" fill="#F23645"/><rect x="720" y="206.5" width="5" height="2.3" fill="#F23645"/><rect x="728" y="202.0" width="1" height="25.8" fill="#F23645"/><rect x="726" y="209.0" width="5" height="18.8" fill="#F23645"/><rect x="735" y="222.5" width="1" height="32.9" fill="#F23645"/><rect x="733" y="226.0" width="5" height="16.6" fill="#F23645"/><rect x="741" y="233.7" width="1" height="24.3" fill="#089981"/><rect x="739" y="238.0" width="5" height="4.6" fill="#089981"/><rect x="748" y="231.4" width="1" height="22.2" fill="#F23645"/><rect x="746" y="238.0" width="5" height="10.0" fill="#F23645"/><rect x="754" y="229.6" width="1" height="18.4" fill="#089981"/><rect x="752" y="232.3" width="5" height="15.7" fill="#089981"/><rect x="761" y="220.2" width="1" height="12.4" fill="#089981"/><rect x="759" y="226.0" width="5" height="6.6" fill="#089981"/><rect x="768" y="219.8" width="1" height="12.2" fill="#089981"/><rect x="766" y="223.0" width="5" height="2.5" fill="#089981"/><rect x="774" y="214.5" width="1" height="8.9" fill="#089981"/><rect x="772" y="218.0" width="5" height="5.4" fill="#089981"/><rect x="781" y="208.8" width="1" height="10.2" fill="#089981"/><rect x="779" y="217.2" width="5" height="1.8" fill="#089981"/><rect x="787" y="215.4" width="1" height="19.0" fill="#089981"/><rect x="785" y="215.4" width="5" height="2.3" fill="#089981"/><rect x="794" y="214.0" width="1" height="14.7" fill="#F23645"/><rect x="792" y="215.4" width="5" height="13.3" fill="#F23645"/><rect x="800" y="223.4" width="1" height="19.9" fill="#F23645"/><rect x="798" y="227.8" width="5" height="9.8" fill="#F23645"/><rect x="807" y="213.6" width="1" height="22.6" fill="#089981"/><rect x="805" y="219.5" width="5" height="16.7" fill="#089981"/><rect x="813" y="217.2" width="1" height="6.5" fill="#089981"/><rect x="811" y="217.4" width="5" height="2.2" fill="#089981"/><rect x="820" y="208.0" width="1" height="10.4" fill="#089981"/><rect x="818" y="210.0" width="5" height="8.4" fill="#089981"/><rect x="826" y="192.0" width="1" height="18.4" fill="#089981"/><rect x="824" y="199.9" width="5" height="10.5" fill="#089981"/><rect x="833" y="197.4" width="1" height="10.1" fill="#F23645"/><rect x="831" y="201.0" width="5" height="1.6" fill="#F23645"/><rect x="839" y="201.0" width="1" height="9.4" fill="#F23645"/><rect x="837" y="201.0" width="5" height="9.4" fill="#F23645"/><rect x="846" y="203.7" width="1" height="13.7" fill="#F23645"/><rect x="844" y="208.3" width="5" height="3.7" fill="#F23645"/><rect x="852" y="212.0" width="1" height="14.4" fill="#F23645"/><rect x="850" y="212.0" width="5" height="11.0" fill="#F23645"/><rect x="859" y="222.2" width="1" height="13.1" fill="#F23645"/><rect x="857" y="222.2" width="5" height="13.1" fill="#F23645"/><rect x="866" y="227.3" width="1" height="12.2" fill="#F23645"/><rect x="864" y="233.2" width="5" height="5.2" fill="#F23645"/><rect x="872" y="231.0" width="1" height="65.3" fill="#F23645"/><rect x="870" y="238.4" width="5" height="43.2" fill="#F23645"/><rect x="879" y="262.6" width="1" height="25.3" fill="#089981"/><rect x="877" y="267.9" width="5" height="14.7" fill="#089981"/><rect x="885" y="250.0" width="1" height="30.5" fill="#089981"/><rect x="883" y="252.0" width="5" height="16.5" fill="#089981"/><rect x="892" y="244.7" width="1" height="11.6" fill="#089981"/><rect x="890" y="250.4" width="5" height="2.1" fill="#089981"/><rect x="898" y="235.7" width="1" height="21.7" fill="#089981"/><rect x="896" y="241.2" width="5" height="9.8" fill="#089981"/><rect x="905" y="199.5" width="1" height="50.7" fill="#089981"/><rect x="903" y="200.6" width="5" height="40.0" fill="#089981"/><rect x="911" y="171.0" width="1" height="32.4" fill="#089981"/><rect x="909" y="187.7" width="5" height="14.8" fill="#089981"/><rect x="918" y="174.0" width="1" height="25.8" fill="#089981"/><rect x="916" y="175.8" width="5" height="13.0" fill="#089981"/><rect x="924" y="167.8" width="1" height="17.8" fill="#F23645"/><rect x="922" y="175.0" width="5" height="10.6" fill="#F23645"/><rect x="931" y="177.0" width="1" height="11.8" fill="#089981"/><rect x="929" y="178.8" width="5" height="7.2" fill="#089981"/><rect x="937" y="174.0" width="1" height="13.4" fill="#F23645"/><rect x="935" y="178.8" width="5" height="8.6" fill="#F23645"/><rect x="944" y="183.8" width="1" height="19.2" fill="#F23645"/><rect x="942" y="186.0" width="5" height="10.6" fill="#F23645"/><rect x="950" y="196.0" width="1" height="11.8" fill="#F23645"/><rect x="948" y="196.0" width="5" height="5.6" fill="#F23645"/><rect x="957" y="191.0" width="1" height="14.5" fill="#089981"/><rect x="955" y="192.7" width="5" height="9.3" fill="#089981"/><rect x="964" y="187.7" width="1" height="23.2" fill="#F23645"/><rect x="962" y="192.7" width="5" height="5.7" fill="#F23645"/><rect x="970" y="196.0" width="1" height="7.0" fill="#F23645"/><rect x="968" y="197.7" width="5" height="4.3" fill="#F23645"/><rect x="977" y="195.4" width="1" height="10.1" fill="#089981"/><rect x="975" y="195.4" width="5" height="6.2" fill="#089981"/><rect x="983" y="187.0" width="1" height="9.6" fill="#089981"/><rect x="981" y="190.0" width="5" height="6.0" fill="#089981"/><rect x="990" y="181.0" width="1" height="15.6" fill="#F23645"/><rect x="988" y="190.0" width="5" height="6.6" fill="#F23645"/><rect x="996" y="183.8" width="1" height="16.0" fill="#089981"/><rect x="994" y="194.0" width="5" height="2.6" fill="#089981"/><rect x="1003" y="193.1" width="1" height="11.5" fill="#F23645"/><rect x="1001" y="195.1" width="5" height="8.5" fill="#F23645"/><rect x="1009" y="191.3" width="1" height="12.4" fill="#089981"/><rect x="1007" y="197.0" width="5" height="6.7" fill="#089981"/><rect x="1016" y="191.3" width="1" height="12.1" fill="#089981"/><rect x="1014" y="195.0" width="5" height="2.6" fill="#089981"/><rect x="1022" y="177.5" width="1" height="24.0" fill="#089981"/><rect x="1020" y="178.2" width="5" height="17.5" fill="#089981"/><rect x="1029" y="174.3" width="1" height="11.2" fill="#089981"/><rect x="1027" y="177.5" width="5" height="1.2" fill="#089981"/><rect x="1035" y="174.3" width="1" height="26.2" fill="#F23645"/><rect x="1033" y="177.2" width="5" height="18.5" fill="#F23645"/><rect x="1042" y="188.4" width="1" height="14.1" fill="#F23645"/><rect x="1040" y="195.0" width="5" height="1.2" fill="#F23645"/><rect x="1048" y="188.4" width="1" height="12.1" fill="#089981"/><rect x="1046" y="194.2" width="5" height="3.4" fill="#089981"/><rect x="1055" y="188.4" width="1" height="8.0" fill="#089981"/><rect x="1053" y="191.3" width="5" height="3.3" fill="#089981"/><rect x="1062" y="185.5" width="1" height="10.2" fill="#F23645"/><rect x="1060" y="190.9" width="5" height="4.8" fill="#F23645"/><rect x="1068" y="195.2" width="1" height="7.3" fill="#F23645"/><rect x="1066" y="195.2" width="5" height="5.6" fill="#F23645"/><rect x="1075" y="196.4" width="1" height="18.9" fill="#F23645"/><rect x="1073" y="200.0" width="5" height="9.2" fill="#F23645"/><rect x="1081" y="201.4" width="1" height="11.1" fill="#089981"/><rect x="1079" y="204.4" width="5" height="5.1" fill="#089981"/><rect x="1088" y="194.2" width="1" height="13.0" fill="#F23645"/><rect x="1086" y="204.4" width="5" height="2.6" fill="#F23645"/><rect x="1094" y="206.6" width="1" height="23.3" fill="#F23645"/><rect x="1092" y="206.6" width="5" height="16.8" fill="#F23645"/><rect x="1101" y="218.6" width="1" height="13.0" fill="#F23645"/><rect x="1099" y="223.4" width="5" height="4.3" fill="#F23645"/><rect x="1107" y="219.0" width="1" height="8.3" fill="#089981"/><rect x="1105" y="225.6" width="5" height="1.2" fill="#089981"/><rect x="1114" y="222.0" width="1" height="7.9" fill="#089981"/><rect x="1112" y="222.7" width="5" height="5.5" fill="#089981"/><rect x="1120" y="223.4" width="1" height="6.1" fill="#F23645"/><rect x="1118" y="223.4" width="5" height="4.3" fill="#F23645"/><rect x="1127" y="223.4" width="1" height="10.0" fill="#F23645"/><rect x="1125" y="227.3" width="5" height="3.5" fill="#F23645"/><rect x="1133" y="230.5" width="1" height="14.3" fill="#F23645"/><rect x="1131" y="230.5" width="5" height="4.5" fill="#F23645"/><rect x="1140" y="231.6" width="1" height="6.0" fill="#F23645"/><rect x="1138" y="234.4" width="5" height="1.2" fill="#F23645"/><rect x="1147" y="231.6" width="1" height="6.0" fill="#089981"/><rect x="1145" y="233.1" width="5" height="1.2" fill="#089981"/><rect x="1153" y="224.3" width="1" height="14.6" fill="#089981"/><rect x="1151" y="227.3" width="5" height="6.5" fill="#089981"/><rect x="1160" y="222.0" width="1" height="7.9" fill="#F23645"/><rect x="1158" y="227.3" width="5" height="1.2" fill="#F23645"/><rect x="1166" y="224.7" width="1" height="9.4" fill="#F23645"/><rect x="1164" y="228.2" width="5" height="5.9" fill="#F23645"/><rect x="1173" y="220.0" width="1" height="15.7" fill="#089981"/><rect x="1171" y="228.2" width="5" height="6.8" fill="#089981"/><rect x="1179" y="221.0" width="1" height="21.5" fill="#F23645"/><rect x="1177" y="227.2" width="5" height="14.5" fill="#F23645"/><rect x="1186" y="230.0" width="1" height="14.7" fill="#089981"/><rect x="1184" y="233.4" width="5" height="8.3" fill="#089981"/><rect x="1192" y="227.2" width="1" height="12.3" fill="#F23645"/><rect x="1190" y="233.4" width="5" height="6.1" fill="#F23645"/><rect x="1199" y="235.2" width="1" height="10.4" fill="#089981"/><rect x="1197" y="237.3" width="5" height="2.2" fill="#089981"/><rect x="1205" y="209.0" width="1" height="31.8" fill="#089981"/><rect x="1203" y="218.1" width="5" height="18.8" fill="#089981"/><rect x="1212" y="215.3" width="1" height="18.7" fill="#F23645"/><rect x="1210" y="218.1" width="5" height="14.5" fill="#F23645"/><rect x="1218" y="222.3" width="1" height="15.2" fill="#089981"/><rect x="1216" y="227.8" width="5" height="5.2" fill="#089981"/><rect x="1225" y="226.0" width="1" height="8.0" fill="#F23645"/><rect x="1223" y="227.8" width="5" height="3.0" fill="#F23645"/><rect x="1231" y="222.0" width="1" height="7.5" fill="#089981"/><rect x="1229" y="224.0" width="5" height="5.5" fill="#089981"/><rect x="1238" y="225.2" width="1" height="86.8" fill="#F23645"/><rect x="1236" y="225.2" width="5" height="84.1" fill="#F23645"/><rect x="1245" y="309.3" width="1" height="181.7" fill="#F23645"/><rect x="1243" y="309.3" width="5" height="60.0" fill="#F23645"/><rect x="1251" y="355.0" width="1" height="26.8" fill="#089981"/><rect x="1249" y="368.4" width="5" height="1.5" fill="#089981"/><rect x="1258" y="357.4" width="1" height="15.5" fill="#089981"/><rect x="1256" y="362.2" width="5" height="7.7" fill="#089981"/><rect x="1264" y="361.3" width="1" height="12.5" fill="#F23645"/><rect x="1262" y="361.3" width="5" height="8.6" fill="#F23645"/><rect x="1271" y="364.0" width="1" height="13.7" fill="#F23645"/><rect x="1269" y="369.3" width="5" height="8.4" fill="#F23645"/><rect x="1277" y="361.3" width="1" height="17.5" fill="#089981"/><rect x="1275" y="374.7" width="5" height="3.0" fill="#089981"/><rect x="1284" y="371.0" width="1" height="9.9" fill="#089981"/><rect x="1282" y="373.4" width="5" height="1.3" fill="#089981"/><rect x="1290" y="364.0" width="1" height="11.6" fill="#089981"/><rect x="1288" y="372.0" width="5" height="1.8" fill="#089981"/><rect x="1297" y="372.4" width="1" height="3.2" fill="#F23645"/><rect x="1295" y="372.4" width="5" height="3.2" fill="#F23645"/><line x1="0" y1="375.5" x2="1380" y2="375.5" stroke="#F23645" stroke-width="1" stroke-dasharray="1 2" stroke-dashoffset="1"/><text transform="translate(876.3,372.5) rotate(-90)" text-anchor="middle" class="ft">Formation Target</text><line x1="0" y1="547.5" x2="1378" y2="547.5" stroke="#6a6d78" stroke-width="1" stroke-dasharray="5 6" stroke-dashoffset="2"/><text x="1389" y="551.5" class="ax">0.00</text><polyline points="0.0,567.4 2.7,571.2 10.1,571.4 15.7,572.8 23.6,565.1 28.1,564.0 35.5,564.0 42.3,568.0 55.1,567.1 61.9,564.0 74.2,559.0 80.5,550.0 87.7,569.0 94.5,556.1 101.2,550.5 108.0,543.7 114.3,548.2 121.5,547.1 133.9,548.2 140.6,540.4 146.2,531.8 153.0,526.9 160.2,520.1 166.0,531.4 172.8,525.3 178.9,528.4 186.7,534.7 193.5,542.6 199.1,546.4 205.9,548.7 211.9,555.0 218.7,545.5 225.0,551.0 231.7,555.0 238.5,542.6 245.2,533.0 250.8,530.9 257.6,534.7 263.7,534.1 270.0,538.1 276.7,547.1 283.9,553.2 291.3,560.6 297.0,552.7 304.2,556.8 310.9,555.4 317.2,555.0 322.7,543.3 329.0,536.5 335.7,531.8 342.5,530.2 348.8,531.8 355.5,528.0 362.3,525.3 368.4,536.5 375.1,548.2 381.9,553.4 388.6,552.7 395.4,551.2 401.4,540.4 408.2,531.4 414.5,533.2 421.2,534.7 428.0,533.2 434.3,537.0 441.0,535.4 447.1,520.1 453.9,526.9 460.6,535.2 467.4,543.1 473.0,541.0 479.7,536.3 486.9,543.3 492.8,545.3 500.0,540.4 506.7,543.1 513.0,544.4 519.1,541.5 525.8,545.5 531.9,555.0 538.7,557.2 545.0,559.5 551.7,549.8 558.0,553.2 564.8,546.4 571.5,555.0 578.3,562.9 585.0,561.3 591.1,561.3 597.8,554.5 604.6,557.9 611.3,561.3 618.1,558.4 624.2,556.1 630.5,562.4 637.2,567.4 643.4,562.4 650.1,564.4 656.2,563.3 662.9,560.6 669.7,562.2 676.0,558.8 682.7,568.5 689.0,567.4 695.8,576.4 701.9,561.7 708.6,568.9 715.4,559.5 722.1,552.7 728.2,562.2 734.5,561.1 741.2,556.6 748.0,554.5 754.3,554.3 761.0,549.4 767.8,531.4 774.5,537.0 780.6,536.5 787.4,525.7 794.1,530.7 800.2,534.3 806.9,532.0 813.2,528.0 820.0,525.7 826.7,529.1 832.3,529.1 839.1,526.4 845.2,532.5 851.9,541.0 858.7,533.2 866.1,534.1 872.2,562.2 878.5,553.9 884.8,550.5 891.5,550.5 897.6,550.5 904.3,543.7 911.1,543.3 917.8,546.4 923.9,547.8 930.7,543.3 937.4,549.8 944.2,552.1 950.0,554.3 956.8,552.1 963.5,552.1 971.2,550.0 977.5,548.2 983.6,544.2 989.7,545.3 996.0,542.6 1002.7,525.3 1009.0,529.1 1015.8,533.6 1021.9,528.7 1028.6,527.5 1034.7,542.6 1041.4,541.5 1047.7,548.2 1054.5,540.8 1061.7,546.4 1068.0,540.8 1074.7,540.8 1081.0,539.2 1087.8,549.4 1093.9,559.0 1100.6,559.0 1107.4,564.0 1113.7,566.9 1120.2,562.2 1126.9,561.7 1133.2,552.7 1140.0,552.7 1146.3,553.9 1153.0,557.2 1159.8,565.1 1165.8,560.6 1172.6,559.5 1179.3,570.3 1185.4,568.9 1192.2,573.4 1198.5,570.3 1205.2,562.4 1211.5,567.4 1218.3,559.6 1225.0,553.9 1231.1,550.0 1237.8,583.1 1245.3,534.3 1251.3,534.7 1258.1,533.2 1264.8,536.3 1270.5,538.6 1276.8,541.0 1283.5,541.0 1296.0,541.4" fill="none" stroke="#4CAF50" stroke-width="1.2" stroke-linejoin="round" /><text x="1389" y="500.0" class="ax">0.000007400</text><text x="1389" y="445.9" class="ax">0.000007600</text><text x="1389" y="391.7" class="ax">0.000007800</text><text x="1389" y="337.5" class="ax">0.000008000</text><text x="1389" y="283.4" class="ax">0.000008200</text><text x="1389" y="229.2" class="ax">0.000008400</text><text x="1389" y="175.1" class="ax">0.000008600</text><text x="1389" y="120.9" class="ax">0.000008800</text><text x="1389" y="66.8" class="ax">0.000009000</text><text x="1389" y="12.6" class="ax">0.000009200</text><path d="M1381,176 H1460 Q1462,176 1462,178 V208 Q1462,210 1460,210 H1381 Z" fill="#F23645"/><text x="1389" y="188.8" class="lb" fill="#fff" stroke="#fff">0.000008460</text><text x="1389" y="205.8" class="lb" fill="#fff" stroke="#fff">0.000008395</text><rect x="1381" y="210" width="81" height="16.5" fill="#FF9800"/><text x="1389" y="222.5" class="lb" fill="#131722">0.000008367</text><path d="M1381,226 H1460 Q1462,226 1462,228 V241.8 Q1462,243.8 1460,243.8 H1381 Z" fill="#F23645"/><text x="1389" y="239.2" class="lb" fill="#fff" stroke="#fff">0.000008365</text><path d="M1381,268 H1460 Q1462,268 1462,270 V282.7 Q1462,284.7 1460,284.7 H1381 Z" fill="#FFEB3B"/><text x="1389" y="280.7" class="lb" fill="#131722" stroke="none">0.000008211</text><path d="M1381,300 H1460 Q1462,300 1462,302 V315 Q1462,317 1460,317 H1381 Z" fill="#F23645"/><text x="1389" y="312.8" class="lb" fill="#fff" stroke="#fff">0.000008070</text><path d="M1381,317 H1460 Q1462,317 1462,319 V331.5 Q1462,333.5 1460,333.5 H1381 Z" fill="#4CAF50"/><text x="1389" y="329.6" class="lb" fill="#fff" stroke="#fff">0.000008031</text><path d="M1381,367 H1460 Q1462,367 1462,369 V381.7 Q1462,383.7 1460,383.7 H1381 Z" fill="#F23645"/><text x="1389" y="379.7" class="lb" fill="#fff" stroke="#fff">0.000007847</text><path d="M1381,424.3 H1460 Q1462,424.3 1462,426.3 V438.5 Q1462,440.5 1460,440.5 H1381 Z" fill="#4CAF50"/><text x="1389" y="436.7" class="lb" fill="#fff" stroke="#fff">0.000007635</text><path d="M1381,443 H1460 Q1462,443 1462,445 V457.5 Q1462,459.5 1460,459.5 H1381 Z" fill="#4CAF50"/><text x="1389" y="455.6" class="lb" fill="#fff" stroke="#fff">0.000007565</text><path d="M1381,471 H1460 Q1462,471 1462,473 V485.7 Q1462,487.7 1460,487.7 H1381 Z" fill="#4CAF50"/><text x="1389" y="483.7" class="lb" fill="#fff" stroke="#fff">0.000007465</text><path d="M1381,495 H1431 Q1433,495 1433,497 V510 Q1433,512 1431,512 H1381 Z" fill="#8D2125"/><text x="1389" y="507.8" class="lb" fill="#fff" stroke="#fff">18.47 K</text><path d="M1381,534 H1416 Q1418,534 1418,536 V549 Q1418,551 1416,551 H1381 Z" fill="#4CAF50"/><text x="1389" y="546.8" class="lb" fill="#fff" stroke="#fff">0.04</text><text x="139.8" y="608.8" text-anchor="middle" class="tm">12</text><text x="296.8" y="608.8" text-anchor="middle" class="tm">13</text><text x="453.8" y="608.8" text-anchor="middle" class="tm">14</text><text x="610.8" y="608.8" text-anchor="middle" class="tm">15</text><text x="767.8" y="608.8" text-anchor="middle" class="tm">16</text><text x="923.8" y="608.8" text-anchor="middle" class="tm">17</text><text x="1080.8" y="608.8" text-anchor="middle" class="tm">18</text><text x="1237.8" y="608.8" text-anchor="middle" class="tm">19</text><polygon points="1419.5,605.3 1422.5,599.5 1430.5,599.5 1433.5,605.3 1430.5,611.0999999999999 1422.5,611.0999999999999" fill="none" stroke="#131722" stroke-width="1.1" stroke-linejoin="miter"/><circle cx="1426.5" cy="605.3" r="2.1" fill="none" stroke="#131722" stroke-width="1.1"/></svg>
</body></html>
